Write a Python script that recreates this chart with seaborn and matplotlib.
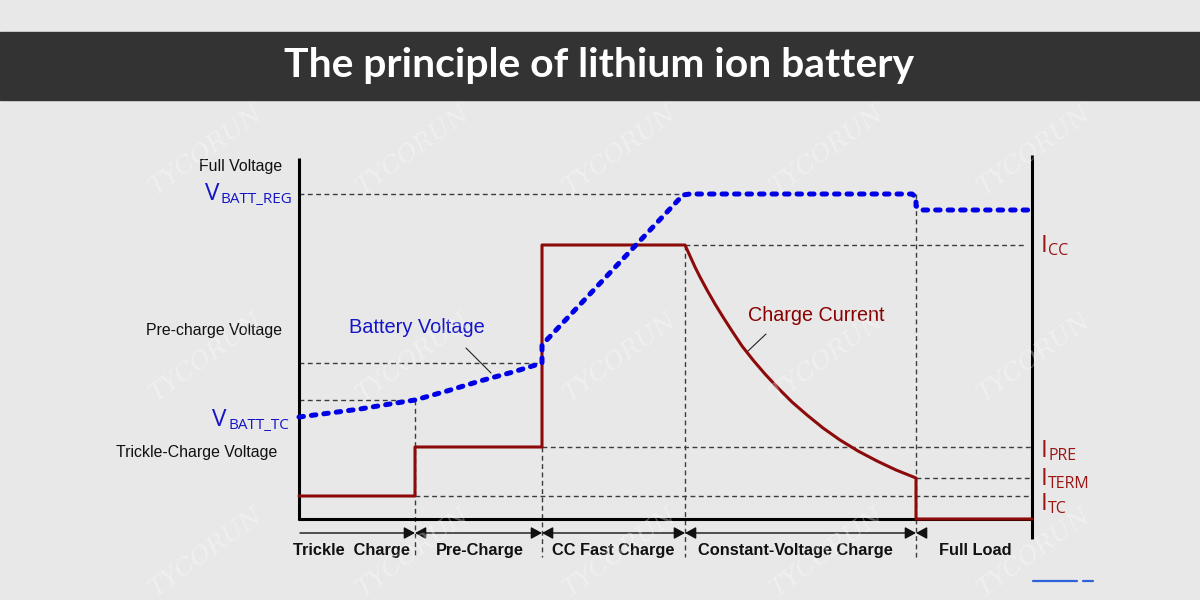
import numpy as np
import pandas as pd
import matplotlib
matplotlib.use("Agg")
import matplotlib.pyplot as plt
import seaborn as sns

# ---------------- data (canvas units: x grows right, y grows down) ----------------
title = "The principle of lithium ion battery"

phase_edges = [299, 415, 542, 685, 916, 1032]
phase_labels = ["Trickle  Charge", "Pre-Charge", "CC Fast Charge", "Constant-Voltage Charge", "Full Load"]
phase_label_x = [351, 480, 613, 795, 975]

voltage_x = [299, 330, 360, 390, 415, 447, 480, 513, 542, 542, 683, 690, 912, 916, 916, 921, 1032]
voltage_y = [417, 413, 409, 404, 400, 391, 381, 372, 363, 345, 195, 194, 194, 197, 206, 210, 210]

current_x = [299, 415, 415, 542, 542, 685, 690, 695, 700, 707, 715, 723, 732, 742, 753, 765,
             778, 792, 807, 823, 840, 858, 877, 896, 916, 916, 1032]
current_y = [496, 496, 447, 447, 245, 245, 256, 267, 277, 290, 304, 317, 331, 346, 360, 374,
             388, 402, 415, 428, 440, 451, 461, 470, 478, 519, 519]

# dashed reference lines
href_x0 = [299, 299, 299, 685, 542, 916, 415]
href_x1 = [685, 542, 415, 1025, 1032, 1032, 1032]
href_y = [194, 363, 400, 245, 447, 478, 496]
vref_x = [415, 542, 685, 916]
vref_y0 = [400, 447, 245, 194]

left_labels = ["Full Voltage", "Pre-charge Voltage", "Trickle-Charge Voltage"]
left_label_y = [166, 331, 452]
left_label_x = [282, 282, 277]

i_subs = ["CC", "PRE", "TERM", "TC"]
i_base = [252, 457, 485, 510]

watermark_rows = [150, 357, 552]
watermark_cols = [206, 413, 620, 827, 1034]

# ---------------- styling ----------------
BG = "#e8e8e8"
BLUE = "#0000e6"
LBLUE = "#1515c8"
MAROON = "#8c0a0a"
IRED = "#9a1414"

sns.set_theme(style="white")
plt.rcParams["font.family"] = ["Liberation Sans", "DejaVu Sans"]

fig = plt.figure(figsize=(12, 6), dpi=100)
fig.patch.set_facecolor(BG)
ax = fig.add_axes([0, 0, 1, 1])
ax.set_facecolor(BG)

# title bar
ax.axhspan(32, 100, color="#333333", zorder=1)
t = ax.text(599, 66, title, ha="center", va="center", color="white",
            fontsize=30, fontweight="bold", family=["Lato", "DejaVu Sans"], zorder=5)
ax.set_xlim(0, 1200)
ax.set_ylim(600, 0)
fig.canvas.draw()
r = fig.canvas.get_renderer()
w = t.get_window_extent(r).width
t.set_fontsize(30 * 631.0 / w)

# dashed reference lines
dash_kw = dict(color="#3c3c3c", lw=1.0, linestyle=(0, (3.5, 2.5)), zorder=2)
for x0, x1, y in zip(href_x0, href_x1, href_y):
    ax.plot([x0, x1], [y, y], **dash_kw)
for x, y0 in zip(vref_x, vref_y0):
    ax.plot([x, x], [y0, 557], **dash_kw)

# axes lines
ax.plot([299, 299], [158, 520], color="black", lw=2.2, solid_capstyle="butt", zorder=4)
ax.plot([298, 1032], [519, 519], color="black", lw=2.2, solid_capstyle="butt", zorder=4)
ax.plot([1032, 1032], [155, 539], color="black", lw=2.2, solid_capstyle="butt", zorder=4)

# curves
df_i = pd.DataFrame({"x": current_x, "y": current_y})
sns.lineplot(data=df_i, x="x", y="y", sort=False, estimator=None, ax=ax,
             color=MAROON, lw=2.2, zorder=5)
df_v = pd.DataFrame({"x": voltage_x, "y": voltage_y})
sns.lineplot(data=df_v, x="x", y="y", sort=False, estimator=None, ax=ax,
             color=BLUE, lw=3.6, linestyle=(0, (0.9, 1.6)), dash_capstyle="round",
             solid_joinstyle="round", zorder=6)
ax.set_xlim(0, 1200)
ax.set_ylim(600, 0)
ax.set_xlabel("")
ax.set_ylabel("")
ax.axis("off")

# phase arrows
arr_y = 533
head = "head_length=0.55,head_width=0.3"
akw = dict(lw=1.0, color="#111111", shrinkA=0, shrinkB=0)
for i in range(len(phase_edges) - 1):
    x0, x1 = phase_edges[i], phase_edges[i + 1]
    if i == 0:
        ax.annotate("", xy=(x1, arr_y), xytext=(x0 + 1, arr_y),
                    arrowprops=dict(arrowstyle="-|>," + head, **akw))
    elif i == len(phase_edges) - 2:
        ax.annotate("", xy=(x0, arr_y), xytext=(x0 + 9, arr_y),
                    arrowprops=dict(arrowstyle="-|>," + head, **akw))
    else:
        ax.annotate("", xy=(x1, arr_y), xytext=(x0, arr_y),
                    arrowprops=dict(arrowstyle="<|-|>," + head, **akw))

for lab, x in zip(phase_labels, phase_label_x):
    ax.text(x, 555, lab, ha="center", va="baseline", fontsize=11.8, fontweight="bold",
            color="#111111", zorder=5)

# left labels
for lab, x, y in zip(left_labels, left_label_x, left_label_y):
    ax.text(x, y, lab, ha="right", va="center", fontsize=11.4, color="#111111", zorder=5)

sub_font = ["Open Sans", "DejaVu Sans"]
# V labels
ax.text(205, 200, "V", ha="left", va="baseline", fontsize=17.5, color=LBLUE, family=sub_font, zorder=5)
ax.text(221, 203, "BATT_REG", ha="left", va="baseline", fontsize=11, color=LBLUE, family=sub_font, zorder=5)
ax.text(212, 426, "V", ha="left", va="baseline", fontsize=17.5, color=LBLUE, family=sub_font, zorder=5)
ax.text(228, 429, "BATT_TC", ha="left", va="baseline", fontsize=11, color=LBLUE, family=sub_font, zorder=5)

# I labels
for s, yb in zip(i_subs, i_base):
    ax.text(1041, yb, "I", ha="left", va="baseline", fontsize=17.5, color=IRED, family=sub_font, zorder=5)
    ax.text(1048, yb + 3, s, ha="left", va="baseline", fontsize=11.5, color=IRED, family=sub_font, zorder=5)

# series annotations
ax.text(349, 333, "Battery Voltage", ha="left", va="baseline", fontsize=14.4, color=LBLUE, zorder=5)
ax.plot([466, 491], [348, 373], color="#222222", lw=0.8, zorder=5)
ax.text(748, 321, "Charge Current", ha="left", va="baseline", fontsize=14.2, color="#880000", zorder=5)
ax.plot([766, 748], [334, 351], color="#222222", lw=0.8, zorder=5)

# small blue marks bottom right
ax.plot([1033, 1077], [581, 581], color="#2e62d9", lw=1.6, zorder=5)
ax.plot([1083, 1093], [581, 581], color="#2e62d9", lw=1.6, zorder=5)

# watermark
for wy in watermark_rows:
    for wx in watermark_cols:
        ax.text(wx, wy, "TYCORUN", ha="center", va="center", rotation=36, fontsize=18,
                color="white", alpha=0.32, family=["DejaVu Serif"], fontstyle="italic", zorder=7)

fig.savefig("out.png", dpi=100, facecolor=BG)
